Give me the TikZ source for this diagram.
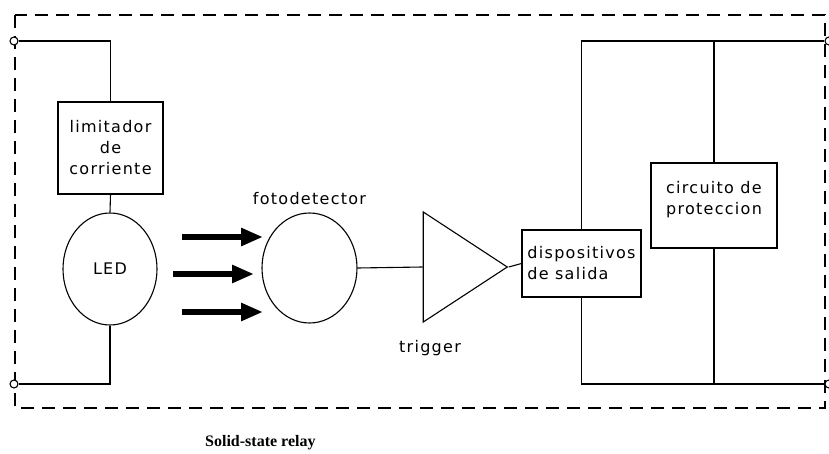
\documentclass[tikz,border=0pt]{standalone}
\usepackage{fontspec}
\usepackage{tikz}
\usetikzlibrary{arrows.meta,positioning,shapes.geometric,calc}
\newfontfamily\cadfont[LetterSpace=8]{DejaVu Sans}
\newfontfamily\capfont{Liberation Serif}
\tikzset{
  rbox/.style={draw,line width=1.1pt,inner sep=0pt,align=center,font=\cadfont\fontsize{16}{21}\selectfont},
  rell/.style={draw,ellipse,line width=1.1pt,inner sep=0pt,font=\cadfont\fontsize{16}{21}\selectfont},
  rtri/.style={draw,isosceles triangle,isosceles triangle stretches,shape border rotate=0,line width=1.1pt,inner sep=0pt},
  rterm/.style={draw,circle,line width=1.1pt,minimum size=8pt,inner sep=0pt,fill=white},
  rtext/.style={font=\cadfont\fontsize{16}{21}\selectfont,inner sep=0pt},
  rwire/.style={line width=1.1pt},
  rray/.style={-{Triangle[length=22pt,width=17pt]},line width=6pt},
  rframe/.style={line width=1.2pt,dash pattern=on 13pt off 8pt}
}
\begin{document}
\begin{tikzpicture}[x=1pt,y=-1pt]
  \useasboundingbox (0,0) rectangle (829,454);
  % enclosure
  \draw[rframe] (15,15) rectangle (825,408);
  % input side
  \node[rterm] (tl) at (14,41) {};
  \node[rterm] (bl) at (14,384) {};
  \node[rbox,minimum width=105pt,minimum height=92pt] (lim) at (110.5,148) {limitador\\de\\corriente};
  \node[rell,minimum width=94pt,minimum height=112pt] (led) at (110,269) {LED};
  \draw[rwire] (tl) -| (lim.north);
  \draw[rwire] (lim.south) -- (led.north);
  \draw[rwire] (led.south) |- (bl);
  % light
  \foreach \x/\y in {182/237,173/274,182/312}
    \draw[rray] (\x,\y) -- ++(81,0);
  % detection
  \node[rell,minimum width=95pt,minimum height=110pt] (foto) at (309.5,268) {};
  \node[rtext,above=8pt of foto] (fotolab) {fotodetector};
  \node[rtri,minimum width=110pt,minimum height=84pt] (trig) at (453,267) {};
  \node[rtext] (triglab) at (430,348) {trigger};
  \draw[rwire] (foto.east) -- (trig.west);
  % output side
  \node[rbox,align=left,minimum width=119pt,minimum height=67pt] (disp) at (581.5,263.5) {dispositivos\\de salida};
  \node[rbox,minimum width=126pt,minimum height=85pt,
        label={[rtext,align=left,yshift=6pt]center:circuito de\\proteccion}] (circ) at (714,205.5) {};
  \node[rterm] (tr) at (829,41) {};
  \node[rterm] (br) at (829,384) {};
  \draw[rwire] (trig.apex) -- (disp.west);
  \draw[rwire] (tr) -| (disp.north);
  \draw[rwire] (disp.south) |- (br);
  \draw[rwire] (circ.north) -- (circ.north |- tr);
  \draw[rwire] (circ.south) -- (circ.south |- br);
  % caption
  \node[font=\capfont\bfseries\fontsize{16}{18}\selectfont,anchor=west,inner sep=0pt] (cap) at (205,443) {Solid-state relay};
\end{tikzpicture}
\end{document}
